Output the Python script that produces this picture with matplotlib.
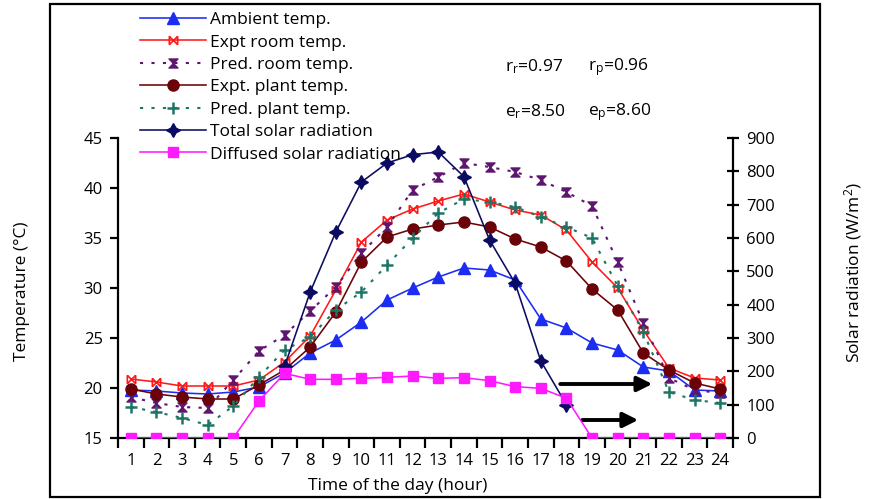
import matplotlib
matplotlib.use("Agg")
import matplotlib.pyplot as plt
from matplotlib.path import Path
from matplotlib.patches import Rectangle

plt.rcParams['font.family'] = ['Open Sans', 'DejaVu Sans']
plt.rcParams['mathtext.default'] = 'regular'

# ---- data ----
hours = list(range(1, 25))
ambient = [19.8, 19.7, 19.5, 19.4, 19.6, 20.1, 21.5, 23.5, 24.8, 26.6, 28.8, 30.0,
           31.1, 32.0, 31.8, 30.8, 26.9, 26.0, 24.5, 23.8, 22.1, 21.7, 19.8, 19.7]
expt_room = [20.9, 20.6, 20.2, 20.2, 20.2, 20.8, 22.6, 25.2, 29.8, 34.6, 36.8, 37.9,
             38.7, 39.4, 38.6, 37.8, 37.3, 35.8, 32.6, 30.0, 25.8, 22.0, 21.0, 20.8]
pred_room = [19.1, 18.5, 18.1, 18.0, 20.8, 23.7, 25.3, 27.7, 30.1, 33.5, 36.1, 39.8,
             41.1, 42.5, 42.1, 41.6, 40.8, 39.6, 38.2, 32.6, 26.5, 21.0, 19.8, 19.5]
expt_plant = [19.9, 19.4, 19.1, 18.9, 18.9, 20.3, 21.8, 24.1, 27.6, 32.6, 35.1, 35.9,
              36.3, 36.6, 36.1, 34.9, 34.1, 32.7, 29.9, 27.8, 23.5, 21.8, 20.5, 19.9]
pred_plant = [18.1, 17.6, 17.0, 16.3, 18.2, 21.1, 23.8, 25.1, 27.8, 29.6, 32.3, 35.0,
              37.5, 38.9, 38.6, 38.1, 37.1, 36.1, 35.0, 30.2, 25.6, 19.6, 18.8, 18.5]
total_hours = list(range(7, 19))
total_solar = [215, 438, 618, 768, 825, 850, 858, 784, 594, 464, 231, 100]
diffused_solar = [0, 0, 0, 0, 0, 111, 194, 176, 176, 179, 182, 186,
                  179, 181, 172, 154, 149, 119, 0, 0, 0, 0, 0, 0]
temp_ticks = [15, 20, 25, 30, 35, 40, 45]
rad_ticks = list(range(0, 1000, 100))

# ---- custom markers ----
# crossed box with side bars
barx = Path([(-1, -1), (-1, 1), (1, -1), (1, 1), (-1, -1), (1, 1), (-1, 1), (1, -1)],
            [Path.MOVETO, Path.LINETO, Path.MOVETO, Path.LINETO,
             Path.MOVETO, Path.LINETO, Path.MOVETO, Path.LINETO])
# hourglass
hourglass = Path([(-1, 1), (1, 1), (-1, -1), (1, -1), (-1, 1)],
                 [Path.MOVETO, Path.LINETO, Path.LINETO, Path.LINETO, Path.CLOSEPOLY])

fig = plt.figure(figsize=(8.70, 4.99), dpi=100)
L, R, B, T = 118 / 870, 733 / 870, 1 - 438 / 499, 1 - 138 / 499
ax = fig.add_axes([L, B, R - L, T - B])
ax2 = ax.twinx()

c_amb = '#1c2cf0'
c_room = '#ff1a1a'
c_proom = '#5e1670'
c_plant = '#6a0208'
c_pplant = '#1d7565'
c_total = '#0b0b62'
c_diff = '#ff19ff'

lw = 1.15
h1, = ax.plot(hours, ambient, color=c_amb, lw=lw, marker='^', ms=8, label='Ambient temp.')
h2, = ax.plot(hours, expt_room, color=c_room, lw=lw, marker=barx, ms=6, mew=1.2,
              label='Expt room temp.')
h3, = ax.plot(hours, pred_room, color=c_proom, lw=1.5, ls=(0, (1.5, 4)), marker=hourglass,
              ms=6.5, label='Pred. room temp.')
h4, = ax.plot(hours, expt_plant, color=c_plant, lw=lw, marker='o', ms=8, label='Expt. plant temp.')
h5, = ax.plot(hours, pred_plant, color=c_pplant, lw=1.5, ls=(0, (1.5, 4)), marker='+',
              ms=8, mew=1.8, label='Pred. plant temp.')
h6, = ax2.plot(total_hours, total_solar, color=c_total, lw=lw, marker=(4, 1, 0), ms=10,
               label='Total solar radiation')
h7, = ax2.plot(hours, diffused_solar, color=c_diff, lw=lw, marker='s', ms=7.5,
               label='Diffused solar radiation')

ax.set_xlim(0.5, 24.5)
ax.set_ylim(15, 45)
ax2.set_ylim(0, 900)

for a in (ax, ax2):
    a.spines['top'].set_visible(False)
    a.patch.set_visible(False)
    for s in a.spines.values():
        s.set_linewidth(1.6)
ax.spines['right'].set_visible(False)
ax2.spines['left'].set_visible(False)
ax2.spines['bottom'].set_visible(False)

ax.set_xticks(hours)
ax.set_xticks([h + 0.5 for h in range(0, 25)], minor=True)
ax.tick_params(axis='x', which='major', length=0, pad=11, labelsize=12)
ax.tick_params(axis='x', which='minor', direction='out', length=7, width=1.6)
ax.set_yticks(temp_ticks)
ax.tick_params(axis='y', direction='out', length=6, width=1.6, pad=5, labelsize=12)
ax2.set_yticks(rad_ticks)
ax2.tick_params(axis='y', direction='inout', length=9, width=1.6, pad=5, labelsize=12)

fig.text(22 / 870, 1 - 291 / 499, 'Temperature (°C)', rotation=90, ha='center', va='center',
         fontsize=12.5)
fig.text(853 / 870, 1 - 273 / 499, 'Solar radiation (W/m$^2$)', rotation=90, ha='center',
         va='center', fontsize=12.5)
fig.text(398 / 870, 1 - 486 / 499, 'Time of the day (hour)', ha='center', va='center',
         fontsize=12.5)

# correlation and error summary
fig.text(505 / 870, 1 - 67 / 499, 'r$_r$=0.97', ha='left', va='center', fontsize=12.5)
fig.text(588 / 870, 1 - 67 / 499, 'r$_p$=0.96', ha='left', va='center', fontsize=12.5)
fig.text(505 / 870, 1 - 112 / 499, 'e$_r$=8.50', ha='left', va='center', fontsize=12.5)
fig.text(588 / 870, 1 - 112 / 499, 'e$_p$=8.60', ha='left', va='center', fontsize=12.5)

# arrows
arrow_style = dict(arrowstyle='-|>,head_length=0.9,head_width=0.45', color='black', lw=2.8,
                   shrinkA=0, shrinkB=0)
ax.annotate('', xy=(21.35, 20.4), xytext=(17.76, 20.4), arrowprops=arrow_style)
ax.annotate('', xy=(20.8, 16.8), xytext=(18.62, 16.8), arrowprops=arrow_style)

fig.legend(handles=[h1, h2, h3, h4, h5, h6, h7], loc='upper left',
           bbox_to_anchor=(140 / 870, 1 - 12 / 499), frameon=False, fontsize=12.5,
           handlelength=3.8, handletextpad=0.25, labelspacing=0.36, borderpad=0,
           borderaxespad=0)

fig.add_artist(Rectangle((50 / 870, 2 / 499), 770 / 870, 493 / 499, transform=fig.transFigure,
                         fill=False, lw=1.6, color='black'))

fig.savefig('out.png', dpi=100)
